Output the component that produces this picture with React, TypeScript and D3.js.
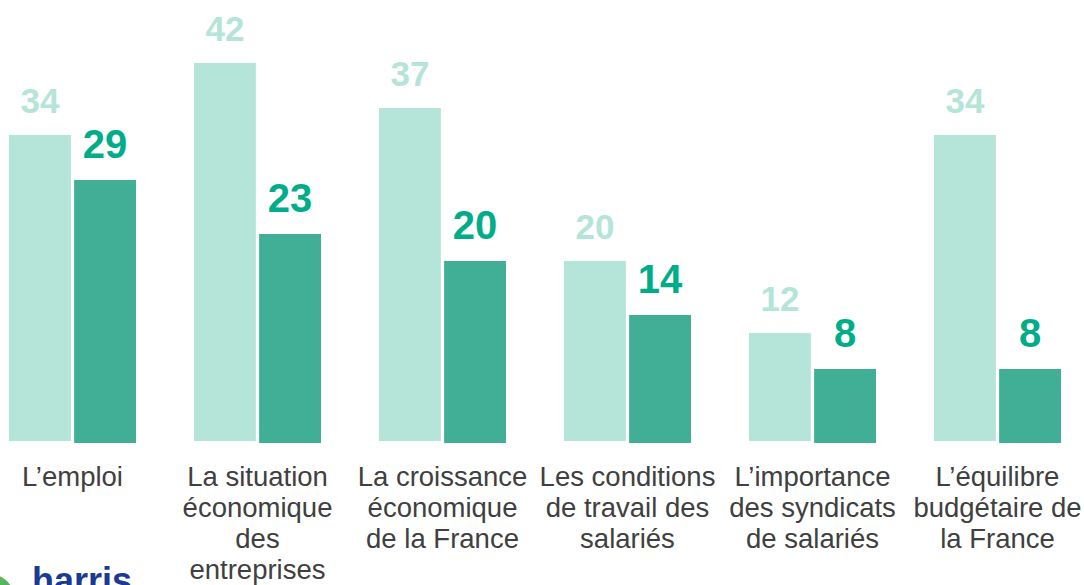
import { useEffect, useRef } from 'react'
import * as d3 from 'd3'

const categories = [
  ['L’emploi'],
  ['La situation', 'économique', 'des', 'entreprises'],
  ['La croissance', 'économique', 'de la France'],
  ['Les conditions', 'de travail des', 'salariés'],
  ['L’importance', 'des syndicats', 'de salariés'],
  ['L’équilibre', 'budgétaire de', 'la France'],
]
const seriesLight = [34, 42, 37, 20, 12, 34]
const seriesDark = [29, 23, 20, 14, 8, 8]

const W = 1084
const H = 585

export default function App() {
  const ref = useRef<SVGSVGElement | null>(null)

  useEffect(() => {
    document.body.style.margin = '0'
    const svg = d3.select(ref.current)
    svg.selectAll('*').remove()

    const keys = categories.map((c) => c.join(' '))
    const x0 = d3.scaleBand().domain(keys).range([9, 1061]).paddingInner(0.3135).paddingOuter(0)
    const x1 = d3.scaleBand().domain(['light', 'dark']).range([0, x0.bandwidth()]).paddingInner(0.05)
    const y = d3.scaleLinear().domain([0, 42]).range([441, 63])

    const rows = keys.map((k, i) => ({ k, lines: categories[i], light: seriesLight[i], dark: seriesDark[i] }))
    const font = 'Liberation Sans, Arial, sans-serif'

    const g = svg.selectAll('g.grp').data(rows).join('g').attr('class', 'grp')
      .attr('transform', (d) => `translate(${x0(d.k)},0)`)

    // light bars
    g.append('rect')
      .attr('x', x1('light')!)
      .attr('width', x1.bandwidth())
      .attr('y', (d) => y(d.light))
      .attr('height', (d) => y(0) - y(d.light))
      .attr('fill', '#b5e4d9')

    g.append('rect')
      .attr('x', x1('dark')!)
      .attr('width', x1.bandwidth())
      .attr('y', (d) => y(d.dark))
      .attr('height', (d) => y(0) - y(d.dark) + 2)
      .attr('fill', '#40af95')

    g.append('text')
      .attr('x', x1('light')! + x1.bandwidth() / 2)
      .attr('y', (d) => y(d.light) - 22)
      .attr('text-anchor', 'middle')
      .attr('font-family', font)
      .attr('font-weight', 'bold')
      .attr('font-size', 35)
      .attr('fill', '#b5e4d9')
      .text((d) => d.light)

    g.append('text')
      .attr('x', x1('dark')! + x1.bandwidth() / 2)
      .attr('y', (d) => y(d.dark) - 22)
      .attr('text-anchor', 'middle')
      .attr('font-family', font)
      .attr('font-weight', 'bold')
      .attr('font-size', 40)
      .attr('fill', '#00ad88')
      .text((d) => d.dark)

    // category labels
    const lbl = g.append('text')
      .attr('text-anchor', 'middle')
      .attr('font-family', font)
      .attr('font-size', 27.5)
      .attr('fill', '#404040')
    lbl.selectAll('tspan').data((d) => d.lines).join('tspan')
      .attr('x', x0.bandwidth() / 2)
      .attr('y', (_, i) => 486 + i * 31)
      .text((t) => t)

    // logo (cut off at bottom)
    const defs = svg.append('defs')
    const grad = defs.append('linearGradient').attr('id', 'lg').attr('x1', 0).attr('y1', 0).attr('x2', 1).attr('y2', 1)
    grad.append('stop').attr('offset', '0%').attr('stop-color', '#8cc63f')
    grad.append('stop').attr('offset', '100%').attr('stop-color', '#1aa37a')
    svg.append('circle').attr('cx', -10).attr('cy', 598).attr('r', 24).attr('fill', 'url(#lg)')
    svg.append('text')
      .attr('x', 32).attr('y', 593)
      .attr('font-family', font)
      .attr('font-weight', 'bold')
      .attr('font-size', 36)
      .attr('fill', '#1b3a93')
      .text('harris')
  }, [])

  return <svg ref={ref} width={W} height={H} style={{ display: 'block' }} />
}
